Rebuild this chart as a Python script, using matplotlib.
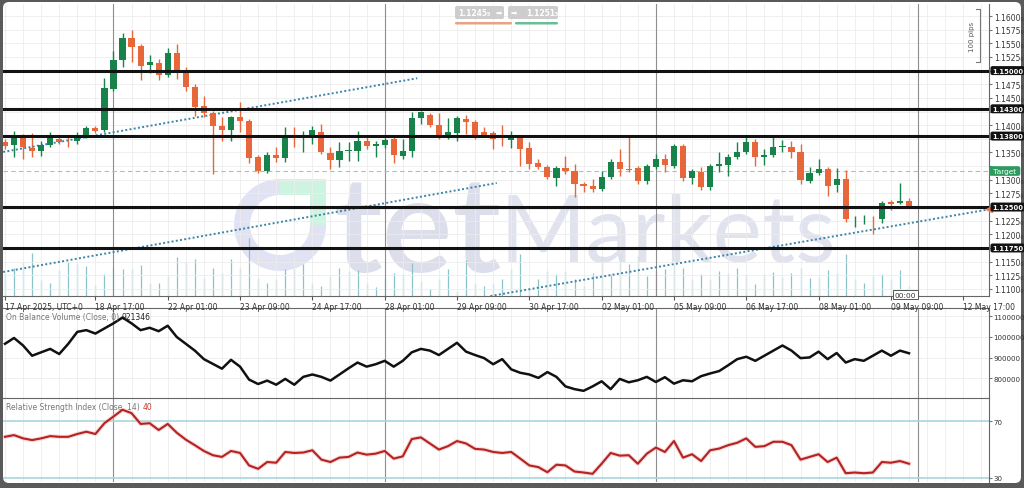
import matplotlib
matplotlib.use("Agg")
import matplotlib.pyplot as plt
import numpy as np
from matplotlib.patches import FancyBboxPatch, Polygon, Rectangle, Wedge

# 4h candles, 17 Apr - 09 May 2025
OPEN = [1.1369, 1.1364, 1.1380, 1.1358, 1.1353, 1.1364, 1.1375, 1.1373, 1.1371, 1.1380,
        1.1395, 1.1391, 1.1466, 1.1519, 1.1560, 1.1545, 1.1510, 1.1514, 1.1492, 1.1532,
        1.1501, 1.1470, 1.1435, 1.1422, 1.1398, 1.1391, 1.1415, 1.1408, 1.1342, 1.1316,
        1.1345, 1.1340, 1.1382, 1.1377, 1.1382, 1.1387, 1.1349, 1.1336, 1.1352, 1.1353,
        1.1371, 1.1362, 1.1364, 1.1375, 1.1344, 1.1353, 1.1413, 1.1419, 1.1400, 1.1380,
        1.1386, 1.1411, 1.1406, 1.1387, 1.1386, 1.1375, 1.1373, 1.1377, 1.1358, 1.1331,
        1.1323, 1.1303, 1.1322, 1.1316, 1.1292, 1.1289, 1.1283, 1.1305, 1.1333, 1.1319,
        1.1322, 1.1298, 1.1323, 1.1338, 1.1325, 1.1362, 1.1303, 1.1314, 1.1287, 1.1325,
        1.1327, 1.1342, 1.1351, 1.1369, 1.1342, 1.1345, 1.1360, 1.1360, 1.1351, 1.1298,
        1.1312, 1.1320, 1.1290, 1.1301, 1.1229, 1.1230, 1.1230, 1.1228, 1.1259, 1.1257,
        1.1261]
HIGH = [1.1375, 1.1389, 1.1384, 1.1386, 1.1371, 1.1387, 1.1378, 1.1378, 1.1387, 1.1398,
        1.1398, 1.1486, 1.1536, 1.1569, 1.1574, 1.1549, 1.1528, 1.1521, 1.1541, 1.1549,
        1.1507, 1.1475, 1.1453, 1.1426, 1.1415, 1.1417, 1.1442, 1.1411, 1.1345, 1.1351,
        1.1360, 1.1397, 1.1397, 1.1389, 1.1398, 1.1402, 1.1360, 1.1369, 1.1369, 1.1389,
        1.1380, 1.1371, 1.1377, 1.1378, 1.1375, 1.1424, 1.1426, 1.1422, 1.1422, 1.1413,
        1.1417, 1.1419, 1.1409, 1.1397, 1.1389, 1.1400, 1.1389, 1.1380, 1.1369, 1.1338,
        1.1327, 1.1325, 1.1344, 1.1329, 1.1296, 1.1301, 1.1316, 1.1338, 1.1356, 1.1380,
        1.1325, 1.1329, 1.1347, 1.1347, 1.1366, 1.1366, 1.1320, 1.1323, 1.1329, 1.1351,
        1.1347, 1.1369, 1.1380, 1.1375, 1.1356, 1.1380, 1.1373, 1.1371, 1.1366, 1.1323,
        1.1338, 1.1323, 1.1322, 1.1318, 1.1234, 1.1235, 1.1234, 1.1261, 1.1263, 1.1294,
        1.1267]
LOW = [1.1356, 1.1342, 1.1338, 1.1342, 1.1344, 1.1360, 1.1366, 1.1360, 1.1366, 1.1377,
       1.1386, 1.1387, 1.1463, 1.1507, 1.1516, 1.1483, 1.1496, 1.1483, 1.1488, 1.1485,
       1.1463, 1.1417, 1.1415, 1.1311, 1.1371, 1.1371, 1.1387, 1.1331, 1.1312, 1.1312,
       1.1332, 1.1332, 1.1360, 1.1351, 1.1366, 1.1347, 1.1320, 1.1323, 1.1334, 1.1334,
       1.1356, 1.1342, 1.1358, 1.1331, 1.1338, 1.1342, 1.1402, 1.1397, 1.1375, 1.1375,
       1.1371, 1.1384, 1.1375, 1.1378, 1.1356, 1.1362, 1.1358, 1.1325, 1.1320, 1.1320,
       1.1301, 1.1289, 1.1311, 1.1268, 1.1278, 1.1278, 1.1279, 1.1301, 1.1307, 1.1314,
       1.1292, 1.1292, 1.1320, 1.1314, 1.1322, 1.1298, 1.1292, 1.1281, 1.1281, 1.1314,
       1.1307, 1.1338, 1.1347, 1.1325, 1.1327, 1.1342, 1.1351, 1.1340, 1.1292, 1.1294,
       1.1309, 1.1270, 1.1278, 1.1223, 1.1213, 1.1219, 1.1201, 1.1221, 1.1245, 1.1256,
       1.1248]
CLOSE = [1.1362, 1.1380, 1.1360, 1.1353, 1.1364, 1.1377, 1.1369, 1.1372, 1.1380, 1.1395,
         1.1389, 1.1468, 1.1519, 1.1560, 1.1543, 1.1508, 1.1515, 1.1492, 1.1532, 1.1501,
         1.1470, 1.1433, 1.1422, 1.1398, 1.1391, 1.1415, 1.1408, 1.1340, 1.1316, 1.1345,
         1.1340, 1.1382, 1.1378, 1.1382, 1.1391, 1.1351, 1.1336, 1.1353, 1.1354, 1.1371,
         1.1362, 1.1366, 1.1373, 1.1345, 1.1353, 1.1413, 1.1424, 1.1400, 1.1378, 1.1387,
         1.1413, 1.1406, 1.1382, 1.1382, 1.1375, 1.1374, 1.1377, 1.1356, 1.1329, 1.1323,
         1.1305, 1.1322, 1.1316, 1.1292, 1.1289, 1.1283, 1.1305, 1.1333, 1.1320, 1.1318,
         1.1298, 1.1325, 1.1338, 1.1327, 1.1362, 1.1303, 1.1316, 1.1287, 1.1325, 1.1329,
         1.1342, 1.1351, 1.1369, 1.1342, 1.1345, 1.1360, 1.1361, 1.1351, 1.1300, 1.1312,
         1.1320, 1.1289, 1.1301, 1.1228, 1.1230, 1.1230, 1.1229, 1.1257, 1.1256, 1.1261,
         1.1248]
TICK_VOLUME = [1400, 1700, 2040, 2600, 960, 760, 1540, 2040, 1900, 1800,
               660, 1300, 1700, 1640, 1640, 1840, 760, 800, 1200, 2360,
               2040, 2200, 1100, 1660, 1400, 2200, 1700, 3460, 1100, 800,
               1040, 1640, 1600, 1900, 760, 600, 1200, 1700, 1500, 1560,
               760, 540, 1100, 1400, 1300, 2000, 900, 440, 1000, 1600,
               300, 2160, 760, 600, 800, 1000, 1600, 2500, 500, 1000,
               1500, 1300, 1500, 1000, 600, 1400, 2400, 1300, 2600, 1900,
               2400, 1200, 1500, 1640, 2000, 1700, 1000, 1300, 1040, 1500,
               1400, 1700, 1300, 700, 1300, 1440, 1160, 1400, 1700, 1100,
               1160, 1560, 1360, 2500, 1000, 800, 1200, 1300, 1000, 1560,
               600]
OBV = [967000, 995000, 958800, 909500, 926000, 942400, 917700, 967000, 1024500, 1032700,
       1016300, 1040900, 1065500, 1093400, 1065500, 1032700, 1044200, 1027700, 1054000, 999800,
       967000, 934200, 893100, 870100, 847100, 889800, 857000, 794600, 773200, 789700,
       769900, 797900, 769900, 807700, 819200, 807700, 789700, 819200, 848800, 876700,
       857000, 868500, 884900, 857000, 884900, 926000, 942400, 934200, 912800, 942400,
       971900, 929200, 912800, 898000, 868500, 893100, 843800, 827400, 819200, 802800,
       830700, 807700, 761800, 748600, 740400, 761800, 786400, 748600, 797900, 781500,
       791300, 807700, 783100, 806100, 775000, 791300, 786400, 811000, 824100, 835600,
       863600, 893100, 904600, 884900, 909500, 934200, 958800, 934200, 898000, 901300,
       929200, 893100, 922600, 876700, 893100, 884900, 909500, 934200, 909500, 934200,
       921346]
RSI = [59.0, 60.2, 57.9, 56.7, 57.9, 59.5, 59.0, 59.0, 61.0, 62.6,
       61.0, 68.6, 73.3, 78.1, 75.7, 68.1, 68.6, 63.8, 68.1, 61.9,
       57.0, 53.1, 49.0, 46.0, 44.8, 49.0, 47.6, 38.8, 36.4, 41.2,
       40.7, 48.3, 47.6, 47.9, 49.5, 42.9, 41.2, 44.3, 44.8, 47.9,
       46.4, 47.1, 49.0, 43.6, 45.2, 57.4, 58.6, 54.3, 50.0, 52.4,
       56.0, 54.3, 50.5, 50.0, 48.3, 47.6, 48.3, 43.6, 38.8, 37.6,
       34.0, 39.3, 38.8, 34.5, 33.8, 32.9, 40.0, 47.6, 45.7, 46.0,
       40.0, 47.1, 51.4, 48.3, 56.0, 44.3, 46.7, 41.9, 49.5, 50.7,
       53.1, 54.8, 57.9, 51.9, 52.4, 55.5, 55.5, 53.1, 42.9, 44.8,
       46.7, 41.2, 44.3, 33.3, 33.8, 33.3, 33.8, 41.2, 40.7, 41.9,
       40.0]

LEVELS = [1.1500, 1.1430, 1.1380, 1.1250, 1.1175]
TARGET = 1.1316
BID = 1.1248
# trend lines: (bar index, price) start and end
TRENDS = [((-0.2, 1.1351), (45.6, 1.1486)),
          ((-0.2, 1.1131), (54.4, 1.1294)),
          ((53.7, 1.1087), (108.6, 1.1245))]
WEEK_LINES = [12, 42, 72, 101]
DATE_TICKS = [0, 10, 18, 26, 34, 42, 50, 58, 66, 74, 82, 90, 98, 106]
DATE_LABELS = ["17 Apr 2025, UTC+0", "18 Apr 17:00", "22 Apr 01:00", "23 Apr 09:00",
               "24 Apr 17:00", "28 Apr 01:00", "29 Apr 09:00", "30 Apr 17:00",
               "02 May 01:00", "05 May 09:00", "06 May 17:00", "08 May 01:00",
               "09 May 09:00", "12 May 17:00"]

W, H = 1024, 489
GREEN = "#17834a"
ORANGE = "#e8673a"
GRID = "#ececec"
FS = 5.5

fig = plt.figure(figsize=(W / 100, H / 100), dpi=100, facecolor="#5a5a5a")


def panel(left, top, right, bottom, **kw):
    return fig.add_axes([left / W, 1 - bottom / H, (right - left) / W, (bottom - top) / H], **kw)


# background card + watermark
bg = panel(0, 0, W, H, zorder=-5)
bg.set_xlim(0, W)
bg.set_ylim(H, 0)
bg.axis("off")
bg.add_patch(FancyBboxPatch((3, 3), 1018, 481, boxstyle="round,pad=0,rounding_size=6",
                            fc="white", ec="none"))
bg.add_patch(Wedge((280, 226), 46, 0, 270, width=16, fc="#e2e2f5", ec="none"))
bg.add_patch(Polygon([(280, 180), (326, 180), (326, 226), (310, 226), (310, 196), (280, 196)],
                     closed=True, fc="#cdf3e1", ec="none"))
bg.text(333, 272, "tet", fontsize=96, fontweight="semibold", family="Lato", color="#dcdfeb",
        va="baseline")
bg.text(500, 262, "Markets", fontsize=67, family="Lato", color="#e0e2ee", va="baseline")

idx = np.arange(len(CLOSE))

# ---- price panel
ax = panel(3, 5, 989, 297, zorder=1)
ax.set_facecolor("none")
vax = ax.twinx()
vax.set_zorder(0.5)
vax.vlines(idx, 0, TICK_VOLUME, colors="#8cc3c9", lw=0.9)
vax.set_ylim(0, 17520)
vax.set_axis_off()

colors = [GREEN if c >= o else ORANGE for o, c in zip(OPEN, CLOSE)]
ax.vlines(idx, LOW, HIGH, colors=colors, lw=1.0, zorder=3)
body_low = np.minimum(OPEN, CLOSE)
body_h = np.maximum(np.abs(np.subtract(CLOSE, OPEN)), 0.00007)
ax.bar(idx, body_h, bottom=body_low, width=0.68, color=colors, linewidth=0, zorder=4)

for (x0, y0), (x1, y1) in TRENDS:
    ax.plot([x0, x1], [y0, y1], ls=(0, (1, 1.2)), color="#3b84a8", lw=1.4, zorder=3)

for w in WEEK_LINES:
    ax.axvline(w, color="#8e8e8e", lw=0.8, zorder=2)

ytrans = ax.get_yaxis_transform()
ax.axhline(TARGET, color="#9cc9a8", lw=0.8, ls=(0, (4, 3)), zorder=2)
ax.axhline(BID, color="#f2a27c", lw=0.9, zorder=2)
ax.plot([1.0], [BID - 0.0002], marker="<", ms=5, color="#ec7b4d", transform=ytrans,
        clip_on=False, zorder=6)
ax.text(1.002, TARGET, " Target ", transform=ytrans, ha="left", va="center", fontsize=5.3,
        color="white", clip_on=False, zorder=6,
        bbox=dict(boxstyle="round,pad=0.25,rounding_size=0.3", fc="#2f9a5f", ec="none"))
for level in LEVELS:
    ax.axhline(level, color="#121212", lw=2.2, zorder=5)
    ax.text(1.003, level, f"{level:.5f}", transform=ytrans, ha="left", va="center", fontsize=4.9,
            color="white", fontweight="bold", clip_on=False, zorder=7,
            bbox=dict(boxstyle="round,pad=0.22,rounding_size=0.3", fc="#121212", ec="none"))

ax.set_xlim(-0.22, 108.85)
ax.set_ylim(1.1087, 1.1622)
ax.yaxis.tick_right()
price_ticks = np.arange(1.11, 1.16001, 0.0025)
covered = LEVELS + [TARGET]
ax.set_yticks(price_ticks)
ax.set_yticklabels(["" if min(abs(p - c) for c in covered) < 0.0011 else f"{p:.4f}\u2080"
                    for p in price_ticks])
ax.set_xticks(DATE_TICKS)
ax.set_xticklabels(DATE_LABELS, ha="left")
ax.set_xticks(np.arange(0, 109, 2), minor=True)
ax.xaxis.remove_overlapping_locs = False
ax.tick_params(axis="x", which="major", labelsize=FS, length=3, pad=1.5, color="#555", labelcolor="#333")
ax.tick_params(axis="y", labelsize=FS, length=2, pad=1.5, color="#777", labelcolor="#333")
ax.tick_params(which="minor", length=0)
ax.grid(which="minor", axis="x", color=GRID, lw=0.6)
ax.grid(which="major", axis="y", color=GRID, lw=0.6)
ax.set_axisbelow(True)
for side in ("top", "left"):
    ax.spines[side].set_visible(False)
for side in ("right", "bottom"):
    ax.spines[side].set_color("#666")
    ax.spines[side].set_linewidth(0.8)


def sub_panel(top, bottom):
    sp = panel(3, top, 989, bottom, sharex=ax)
    sp.set_facecolor("none")
    sp.xaxis.remove_overlapping_locs = False
    sp.yaxis.tick_right()
    sp.tick_params(axis="x", which="both", length=0, labelbottom=False)
    sp.tick_params(axis="y", labelsize=5.1, length=2, pad=1, color="#777", labelcolor="#333")
    sp.grid(which="minor", axis="x", color=GRID, lw=0.6)
    sp.set_axisbelow(True)
    for w in WEEK_LINES:
        sp.axvline(w, color="#8e8e8e", lw=0.8, zorder=1)
    sp.spines["left"].set_visible(False)
    sp.spines["bottom"].set_visible(False)
    for side in ("top", "right"):
        sp.spines[side].set_color("#666")
        sp.spines[side].set_linewidth(0.8)
    return sp


# ---- on balance volume
ox = sub_panel(309, 399)
ox.plot(idx, OBV, color="#111", lw=1.8, zorder=3)
ox.set_ylim(705900, 1139400)
ox.set_yticks([800000, 900000, 1000000, 1100000])
ox.set_yticklabels(["800000", "900000", "1000000", "1100000"])
ox.grid(which="major", axis="y", color=GRID, lw=0.6)
t1 = ox.text(0.003, 0.95, "On Balance Volume (Close, 0)", transform=ox.transAxes, fontsize=FS,
             color="#777", va="top", ha="left")
ox.annotate(f"{OBV[-1]}", xy=(1, 0), xycoords=t1, xytext=(2, 0), textcoords="offset points",
            fontsize=FS, color="#222", va="bottom", ha="left")

# ---- RSI
rx = sub_panel(399, 483)
rx.axhline(70, color="#a9d6dc", lw=1.2, zorder=2)
rx.axhline(30, color="#a9d6dc", lw=1.2, zorder=2)
rx.plot(idx, RSI, color="#f2b0b0", lw=3.0, zorder=3, alpha=0.5)
rx.plot(idx, RSI, color="#b42222", lw=1.5, zorder=4)
rx.set_ylim(27.1, 86.4)
rx.set_yticks([30, 70])
t2 = rx.text(0.003, 0.95, "Relative Strength Index (Close, 14)", transform=rx.transAxes, fontsize=FS,
             color="#777", va="top", ha="left")
rx.annotate(f"{RSI[-1]:.0f}", xy=(1, 0), xycoords=t2, xytext=(2, 0), textcoords="offset points",
            fontsize=FS, color="#c0392b", va="bottom", ha="left")

# ---- overlay widgets (order buttons, pips bracket, countdown)
fg = panel(0, 0, W, H, zorder=10)
fg.set_xlim(0, W)
fg.set_ylim(H, 0)
fg.axis("off")
fg.add_patch(FancyBboxPatch((455, 7), 49, 13, boxstyle="round,pad=0,rounding_size=2", fc="#cdcdcd", ec="none"))
fg.add_patch(FancyBboxPatch((508, 7), 50, 13, boxstyle="round,pad=0,rounding_size=2", fc="#cdcdcd", ec="none"))
fg.text(458, 13.5, "1.1245\u2085", fontsize=5.5, color="white", fontweight="bold", va="center")
fg.text(499, 13.5, "\u27a1", fontsize=5.5, color="white", va="center", ha="center")
fg.text(514, 13.5, "\u27a1", fontsize=5.5, color="white", va="center", ha="center")
fg.text(526, 13.5, "1.1251\u2085", fontsize=5.5, color="white", fontweight="bold", va="center")
fg.add_patch(FancyBboxPatch((455, 23), 57, 2.5, boxstyle="round,pad=0,rounding_size=1.2", fc="#e9a383", ec="none"))
fg.add_patch(FancyBboxPatch((515, 23), 43, 2.5, boxstyle="round,pad=0,rounding_size=1.2", fc="#69bf93", ec="none"))
fg.plot([976, 980, 980, 976], [10, 10, 63, 63], color="#777", lw=0.8)
fg.text(972, 37, "100 pips", rotation=90, fontsize=5, color="#555", ha="center", va="center")
fg.add_patch(Rectangle((893, 291), 25, 9, fc="white", ec="#555", lw=0.7))
fg.text(905.5, 295.5, "00:00", fontsize=5.3, color="#333", ha="center", va="center")

fig.savefig("out.png", dpi=100, facecolor=fig.get_facecolor())
